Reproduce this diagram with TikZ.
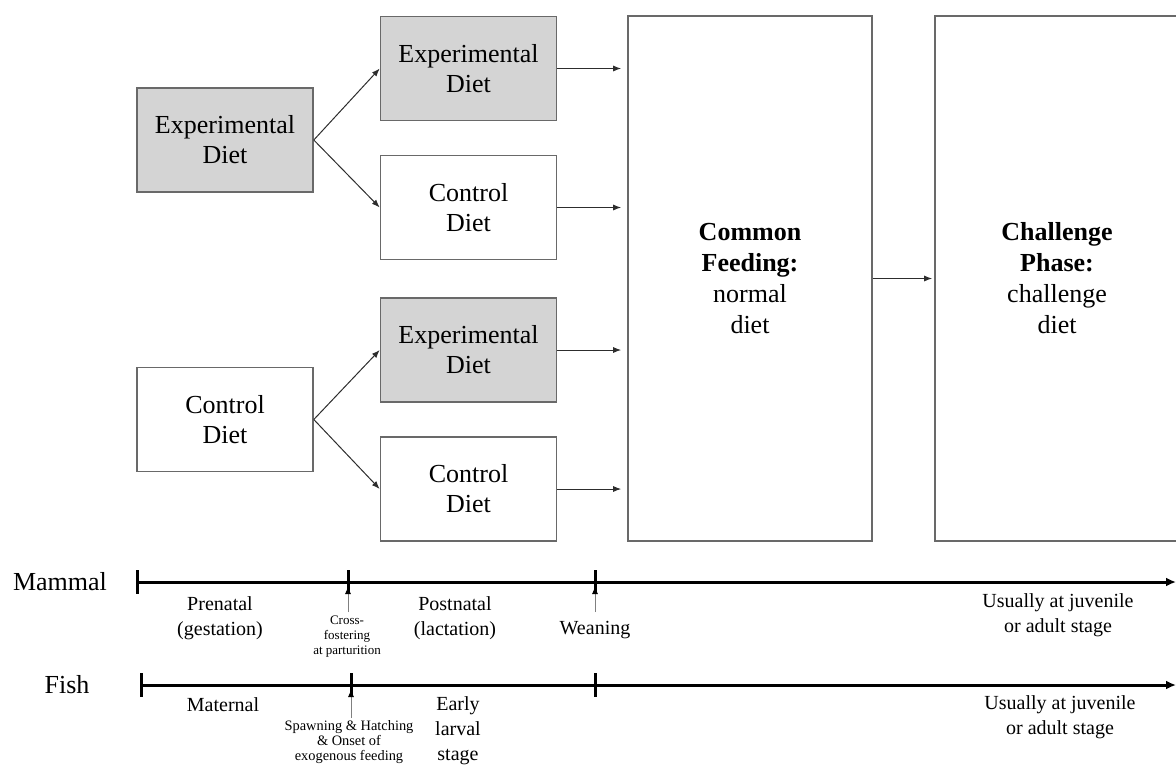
\documentclass[tikz,border=0pt]{standalone}
\usepackage{fontspec}
\setmainfont{Liberation Serif}
\usetikzlibrary{arrows.meta,positioning}

\definecolor{expgray}{RGB}{212,212,212}
\definecolor{edgegray}{RGB}{105,105,105}
\definecolor{arrgray}{RGB}{45,45,45}

\tikzset{
  diet/.style={draw=edgegray, line width=0.8pt, minimum width=88pt, minimum height=52pt,
    inner sep=0pt, align=center, font=\fontsize{13}{15}\selectfont},
  expdiet/.style={diet, fill=expgray},
  phase/.style={diet, minimum width=122pt, minimum height=262.5pt, font=\fontsize{13}{15.5}\selectfont},
  feed/.style={draw=arrgray, line width=0.5pt, -{Latex[length=4pt,width=3pt]}},
  axis/.style={line width=1.5pt, -{Latex[length=5pt,width=4.5pt]}},
  notch/.style={line width=1.5pt},
  event/.style={draw=gray, line width=0.5pt, -{Latex[length=4pt,width=3pt,color=black]}},
  stage/.style={align=center, inner sep=0pt, font=\fontsize{10}{12.5}\selectfont},
  note/.style={align=center, inner sep=0pt, font=\fontsize{6.5}{7.5}\selectfont},
  species/.style={inner sep=0pt, font=\fontsize{13}{15}\selectfont}
}

\begin{document}
\begin{tikzpicture}[x=0.5pt, y=-0.5pt]

\def\ym{582}
\def\yf{685}

\path [use as bounding box] (0,0) rectangle (1176,772);

% PRENATAL DIETS
\node [expdiet] (preE) at (225,140) {Experimental\\Diet};
\node [diet] (preC) at (225,419.5) {Control\\Diet};

% POSTNATAL DIETS
\node [expdiet] (postEE) at (468.5,68.5) {Experimental\\Diet};
\node [diet] (postEC) at (468.5,207.5) {Control\\Diet};
\node [expdiet] (postCE) at (468.5,350) {Experimental\\Diet};
\node [diet] (postCC) at (468.5,489) {Control\\Diet};

% PHASES
\node [phase] (common) at (750,278.5) {\textbf{Common}\\\textbf{Feeding:}\\normal\\diet};
\node [phase] (challenge) at (1057,278.5) {\textbf{Challenge}\\\textbf{Phase:}\\challenge\\diet};

% CROSS-FOSTERING
\draw [feed] (preE.east) -- (postEE.west);
\draw [feed] (preE.east) -- (postEC.west);
\draw [feed] (preC.east) -- (postCE.west);
\draw [feed] (preC.east) -- (postCC.west);

% INTO COMMON FEEDING
\foreach \n in {postEE,postEC,postCE,postCC}
  \draw [feed, shorten >=3pt] (\n.east) -- (\n.east -| common.west);
\draw [feed, shorten >=1pt] (common.east) -- (challenge.west);

% MAMMAL TIMELINE
\node [species] (mammal) at (60,\ym) {Mammal};
\coordinate (m0) at (137,\ym);
\coordinate (m1) at (348,\ym);
\coordinate (m2) at (595,\ym);
\coordinate (mEnd) at (1176,\ym);
\draw [axis] (m0) -- (mEnd);
\foreach \c in {m0,m1,m2}
  \draw [notch] (\c) ++(0,-12) -- ++(0,24);
\node [stage] (prenatal) at (220,618) {Prenatal\\(gestation)};
\node [note] (foster) at (347,637) {Cross-\\fostering\\at parturition};
\node [stage] (postnatal) at (455,618) {Postnatal\\(lactation)};
\node [stage] (weaning) at (595,630) {Weaning};
\node [stage] (mLater) at (1058,615) {Usually at juvenile\\or adult stage};
\draw [event] (m1) ++(0,30) -- ([yshift=-2pt]m1);
\draw [event] (m2) ++(0,30) -- ([yshift=-2pt]m2);

% FISH TIMELINE
\node [species] (fish) at (67,\yf) {Fish};
\coordinate (f0) at (141,\yf);
\coordinate (f1) at (351,\yf);
\coordinate (f2) at (595,\yf);
\coordinate (fEnd) at (1176,\yf);
\draw [axis] (f0) -- (fEnd);
\foreach \c in {f0,f1,f2}
  \draw [notch] (\c) ++(0,-12) -- ++(0,24);
\node [stage] (maternal) at (223,705) {Maternal};
\node [note, font=\fontsize{7.2}{7.4}\selectfont] (spawn) at (349,742) {Spawning \& Hatching\\\& Onset of\\exogenous feeding};
\node [stage] (larval) at (458,731) {Early\\larval\\stage};
\node [stage] (fLater) at (1060,717) {Usually at juvenile\\or adult stage};
\draw [event] (f1) ++(0,33) -- ([yshift=-2pt]f1);

\end{tikzpicture}
\end{document}
